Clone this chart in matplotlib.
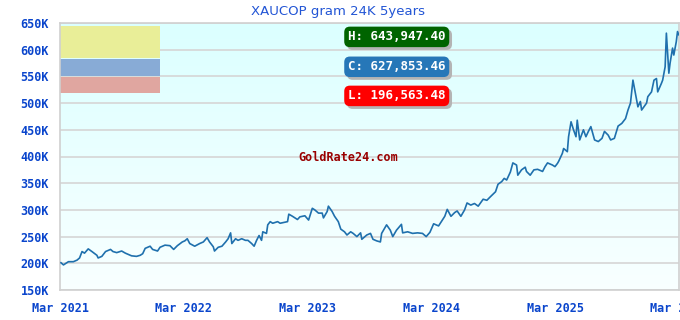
import matplotlib.pyplot as plt
import matplotlib.patheffects as pe
import numpy as np
from matplotlib.patches import Rectangle
from matplotlib.ticker import FuncFormatter

# price of gold (24K, per gram) in COP
# time in decimal years
years = [2021.17, 2021.19, 2021.23, 2021.27, 2021.30, 2021.32, 2021.34, 2021.36, 2021.39, 2021.42,
         2021.46, 2021.47, 2021.50, 2021.53, 2021.57, 2021.59, 2021.62, 2021.66, 2021.69, 2021.71,
         2021.74, 2021.78, 2021.81, 2021.83, 2021.85, 2021.89, 2021.91, 2021.95, 2021.97, 2022.01,
         2022.05, 2022.08, 2022.11, 2022.15, 2022.17, 2022.19, 2022.21, 2022.25, 2022.29, 2022.32,
         2022.35, 2022.37, 2022.40, 2022.41, 2022.44, 2022.47, 2022.50, 2022.52, 2022.54, 2022.55,
         2022.58, 2022.60, 2022.63, 2022.66, 2022.68, 2022.71, 2022.73, 2022.75, 2022.77, 2022.79,
         2022.80, 2022.83, 2022.84, 2022.86, 2022.88, 2022.92, 2022.94, 2022.96, 2023.00, 2023.01,
         2023.04, 2023.08, 2023.10, 2023.14, 2023.17, 2023.20, 2023.22, 2023.25, 2023.28, 2023.29,
         2023.32, 2023.33, 2023.36, 2023.38, 2023.41, 2023.43, 2023.46, 2023.48, 2023.51, 2023.53,
         2023.56, 2023.59, 2023.60, 2023.64, 2023.67, 2023.69, 2023.72, 2023.75, 2023.76, 2023.80,
         2023.83, 2023.85, 2023.88, 2023.92, 2023.93, 2023.97, 2024.01, 2024.05, 2024.09, 2024.12,
         2024.15, 2024.18, 2024.22, 2024.25, 2024.27, 2024.29, 2024.32, 2024.35, 2024.37, 2024.40,
         2024.43, 2024.45, 2024.48, 2024.51, 2024.54, 2024.58, 2024.61, 2024.64, 2024.68, 2024.70,
         2024.73, 2024.75, 2024.77, 2024.80, 2024.82, 2024.85, 2024.86, 2024.89, 2024.92, 2024.93,
         2024.96, 2024.99, 2025.02, 2025.06, 2025.08, 2025.10, 2025.14, 2025.16, 2025.18, 2025.19,
         2025.22, 2025.23, 2025.26, 2025.27, 2025.29, 2025.31, 2025.33, 2025.34, 2025.36, 2025.39,
         2025.41, 2025.43, 2025.45, 2025.48, 2025.51, 2025.54, 2025.56, 2025.59, 2025.61, 2025.64,
         2025.67, 2025.70, 2025.73, 2025.75, 2025.77, 2025.79, 2025.81, 2025.83, 2025.85, 2025.86,
         2025.90, 2025.91, 2025.94, 2025.96, 2025.98, 2025.99, 2026.02, 2026.03, 2026.05, 2026.06,
         2026.07, 2026.08, 2026.09, 2026.11, 2026.12, 2026.14, 2026.15, 2026.16]

price_k = [201, 197, 203, 203, 206, 210, 222, 219, 227, 222,
           215, 210, 213, 222, 226, 222, 220, 223, 219, 217,
           214, 213, 215, 218, 228, 232, 226, 223, 230, 234,
           233, 226, 233, 240, 242, 246, 237, 232, 237, 240,
           248, 240, 231, 223, 230, 232, 240, 246, 257, 237,
           246, 243, 246, 243, 243, 237, 232, 243, 252, 243,
           259, 256, 272, 278, 275, 278, 275, 276, 278, 292,
           288, 282, 287, 289, 281, 303, 300, 294, 294, 285,
           297, 307, 297, 288, 278, 264, 259, 253, 259, 256,
           250, 257, 245, 253, 256, 245, 242, 240, 256, 272,
           262, 250, 262, 273, 257, 259, 256, 257, 256, 250,
           258, 274, 270, 281, 288, 301, 288, 295, 298, 288,
           300, 313, 309, 312, 307, 320, 318, 325, 334, 348,
           353, 359, 356, 371, 388, 384, 365, 375, 380, 372,
           365, 375, 376, 372, 381, 388, 384, 381, 387, 391,
           406, 415, 409, 437, 465, 450, 437, 468, 431, 450,
           437, 447, 456, 431, 428, 434, 447, 440, 431, 434,
           457, 462, 471, 487, 500, 543, 518, 493, 503, 487,
           500, 512, 521, 543, 546, 521, 537, 543, 568, 631,
           593, 556, 575, 603, 590, 615, 634, 628]

high_label = "H: 643,947.40"
close_label = "C: 627,853.46"
low_label = "L: 196,563.48"

tick_years = [2021, 2022, 2023, 2024, 2025, 2026]
mar_offset = 0.162  # 1st of March as a fraction of the year

blue_txt = '#0a45cc'
mono = 'DejaVu Sans Mono'

fig = plt.figure(figsize=(6.8, 3.2), dpi=100)
ax = fig.add_axes([60 / 680, 30 / 320, 619 / 680, 267 / 320])

ax.set_xlim(tick_years[0] + mar_offset, tick_years[-1] + mar_offset)
ax.set_ylim(150, 650)

# background gradient, light cyan at top to nearly white at bottom
grad = np.linspace(0, 1, 256).reshape(-1, 1, 1)
top = np.array([0.86, 1.0, 1.0])
bot = np.array([0.975, 1.0, 1.0])
img = top * (1 - grad) + bot * grad
ax.imshow(img, aspect='auto', extent=[0, 1, 0, 1], transform=ax.transAxes, zorder=0)

ax.grid(axis='y', color='#d6d6d6', linewidth=1.2, zorder=1)
ax.set_axisbelow(True)
for s in ax.spines.values():
    s.set_color('#d0d0d0')
    s.set_linewidth(1.2)

# coloured bands in the top-left corner
bands = [('#e9ee98', 0.990, 0.868), ('#88abd6', 0.864, 0.800), ('#e0a6a0', 0.797, 0.738)]
for col, ytop, ybot in bands:
    ax.add_patch(Rectangle((0.0, ybot), 0.161, ytop - ybot, transform=ax.transAxes,
                           facecolor=col, edgecolor='none', zorder=2))

ax.plot(years, price_k, color='#1f70ad', linewidth=1.2, zorder=4)

ax.set_yticks(np.arange(150, 651, 50))
ax.yaxis.set_major_formatter(FuncFormatter(lambda v, p: f'{int(v)}K'))
ax.set_xticks([y + mar_offset for y in tick_years])
ax.set_xticklabels([f'Mar {y}' for y in tick_years])
ax.tick_params(length=0, pad=9)
ax.tick_params(axis='y', pad=8)
for lab in ax.get_xticklabels() + ax.get_yticklabels():
    lab.set_fontfamily(mono)
    lab.set_fontweight('bold')
    lab.set_fontsize(8.5)
    lab.set_color(blue_txt)

fig.text(338 / 680, 1 - 11 / 320, 'XAUCOP gram 24K 5years', ha='center', va='center',
         fontsize=9.5, color='#2255d5', family='DejaVu Sans')

# H / C / L boxes with a grey drop shadow
boxes = [(high_label, '#006400', 0.948), (close_label, '#2677b8', 0.836), (low_label, '#ff0000', 0.727)]
for txt, col, yy in boxes:
    t = ax.text(0.544, yy, txt, transform=ax.transAxes, ha='center', va='center',
                fontsize=9, family=mono, fontweight='bold', color='white', zorder=6,
                bbox=dict(boxstyle='round,pad=0.3,rounding_size=0.45', facecolor=col,
                          edgecolor='none'))
    t.get_bbox_patch().set_path_effects([
        pe.SimplePatchShadow(offset=(2, -2), shadow_rgbFace='#b4b4b4', alpha=1.0),
        pe.Normal()])

ax.text(0.465, 0.497, 'GoldRate24.com', transform=ax.transAxes, ha='center', va='center',
        fontsize=8.5, family=mono, fontweight='bold', color='#990000', zorder=3)

fig.savefig('out.png', dpi=100)
